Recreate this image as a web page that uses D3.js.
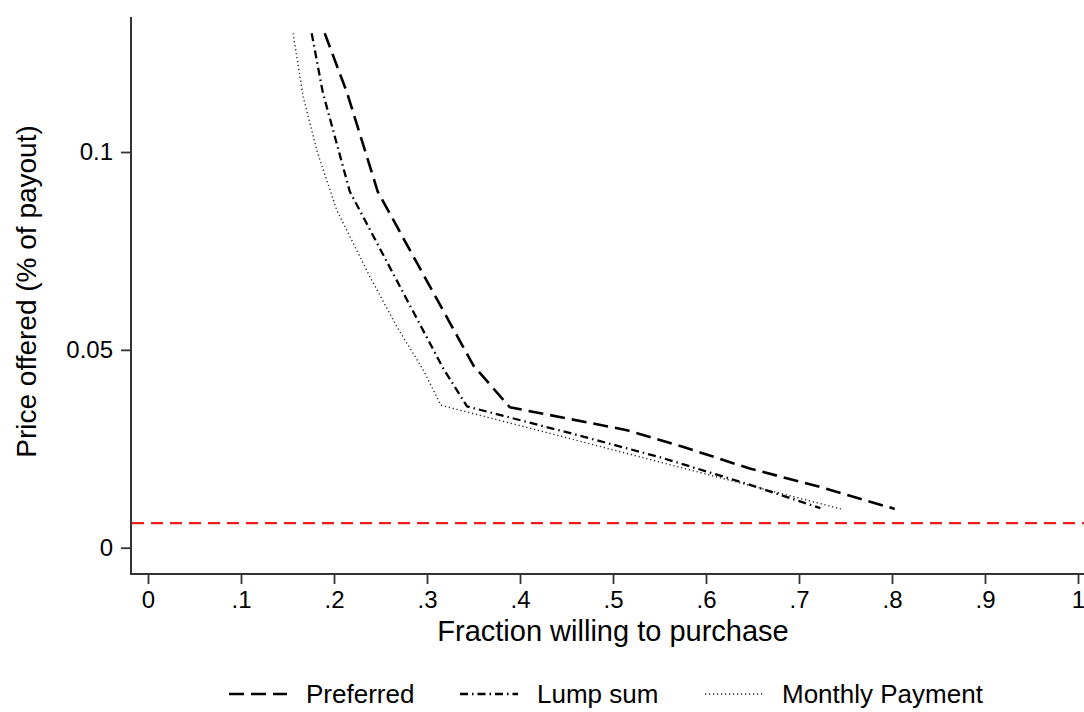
<!DOCTYPE html>
<html>
<head>
<meta charset="utf-8">
<script src="https://cdn.jsdelivr.net/npm/d3@7"></script>
<style>
  body { margin: 0; background: #fff; }
  svg text { font-family: "Liberation Sans", Arial, Helvetica, sans-serif; fill: #000; }
</style>
</head>
<body>
<div id="chart"></div>
<script>
var w = 1084, h = 712;

// series: fraction willing to purchase (x) vs price (y)
var prefX = [0.190, 0.214, 0.247, 0.350, 0.389, 0.515, 0.575, 0.647, 0.719, 0.803];
var prefY = [0.130, 0.115, 0.090, 0.046, 0.0355, 0.0297, 0.0255, 0.0200, 0.0156, 0.0098];

var lumpX = [0.176, 0.188, 0.217, 0.317, 0.343, 0.450, 0.550, 0.650, 0.723];
var lumpY = [0.130, 0.115, 0.090, 0.0455, 0.0357, 0.0292, 0.0229, 0.0157, 0.0100];

var monthX = [0.156, 0.167, 0.182, 0.203, 0.239, 0.268, 0.296, 0.315, 0.450, 0.600, 0.745];
var monthY = [0.130, 0.1138, 0.100, 0.0853, 0.0683, 0.0557, 0.0449, 0.036, 0.0278, 0.0186, 0.0098];

var refPrice = 0.0062;

var xTicks = [0, 0.1, 0.2, 0.3, 0.4, 0.5, 0.6, 0.7, 0.8, 0.9, 1];
var xTickLabels = ["0", ".1", ".2", ".3", ".4", ".5", ".6", ".7", ".8", ".9", "1"];
var yTicks = [0, 0.05, 0.1];
var yTickLabels = ["0", "0.05", "0.1"];

var seriesNames = ["Preferred", "Lump sum", "Monthly Payment"];

var x = d3.scaleLinear().domain([0, 1]).range([148, 1078]);
var y = d3.scaleLinear().domain([0, 0.1]).range([547.7, 152]);

var axisLeftX = 131, axisBottomY = 574, plotTop = 17;

var styles = [
  { stroke: "#000", width: 2.6, dash: "15,7" },
  { stroke: "#000", width: 2.3, dash: "8,4,1.5,4" },
  { stroke: "#222", width: 1.4, dash: "1.2,2.8" }
];

var svg = d3.select("#chart").append("svg")
  .attr("width", w)
  .attr("height", h);

// axes
var xAxis = d3.axisBottom(x)
  .tickValues(xTicks)
  .tickFormat(function(d, i) { return xTickLabels[i]; })
  .tickSize(10)
  .tickPadding(7);

var yAxis = d3.axisLeft(y)
  .tickValues(yTicks)
  .tickFormat(function(d, i) { return yTickLabels[i]; })
  .tickSize(10)
  .tickPadding(8);

var gx = svg.append("g")
  .attr("transform", "translate(0," + axisBottomY + ")")
  .call(xAxis);
var gy = svg.append("g")
  .attr("transform", "translate(" + axisLeftX + ",0)")
  .call(yAxis);

[gx, gy].forEach(function(g) {
  g.select(".domain").remove();
  g.selectAll(".tick line").attr("stroke", "#333").attr("stroke-width", 1.8);
  g.selectAll(".tick text").style("font-size", "24px");
});

svg.append("line")
  .attr("x1", axisLeftX).attr("x2", w)
  .attr("y1", axisBottomY).attr("y2", axisBottomY)
  .attr("stroke", "#333").attr("stroke-width", 2);
svg.append("line")
  .attr("x1", axisLeftX).attr("x2", axisLeftX)
  .attr("y1", plotTop).attr("y2", axisBottomY + 1)
  .attr("stroke", "#333").attr("stroke-width", 2);

// reference price line
svg.append("line")
  .attr("x1", axisLeftX + 1).attr("x2", w)
  .attr("y1", y(refPrice)).attr("y2", y(refPrice))
  .attr("stroke", "#f01c1c")
  .attr("stroke-width", 2.3)
  .attr("stroke-dasharray", "12,7");

// curves
var line = d3.line()
  .x(function(d) { return x(d[0]); })
  .y(function(d) { return y(d[1]); });

var series = [
  d3.zip(prefX, prefY),
  d3.zip(lumpX, lumpY),
  d3.zip(monthX, monthY)
];

series.forEach(function(pts, i) {
  svg.append("path")
    .attr("d", line(pts))
    .attr("fill", "none")
    .attr("stroke", styles[i].stroke)
    .attr("stroke-width", styles[i].width)
    .attr("stroke-dasharray", styles[i].dash)
    .attr("stroke-linejoin", "round");
});

// axis titles
svg.append("text")
  .attr("x", x(0.5))
  .attr("y", 641)
  .attr("text-anchor", "middle")
  .style("font-size", "29px")
  .text("Fraction willing to purchase");

svg.append("text")
  .attr("transform", "translate(36," + ((plotTop + axisBottomY) / 2 - 4) + ") rotate(-90)")
  .attr("text-anchor", "middle")
  .style("font-size", "28px")
  .text("Price offered (% of payout)");

// legend
var legendX = [229, 460, 705];
var legendY = 694;
seriesNames.forEach(function(name, i) {
  svg.append("line")
    .attr("x1", legendX[i]).attr("x2", legendX[i] + 58)
    .attr("y1", legendY).attr("y2", legendY)
    .attr("stroke", styles[i].stroke)
    .attr("stroke-width", styles[i].width)
    .attr("stroke-dasharray", styles[i].dash);
  svg.append("text")
    .attr("x", legendX[i] + 77)
    .attr("y", legendY + 9)
    .style("font-size", "26px")
    .text(name);
});
</script>
</body>
</html>
